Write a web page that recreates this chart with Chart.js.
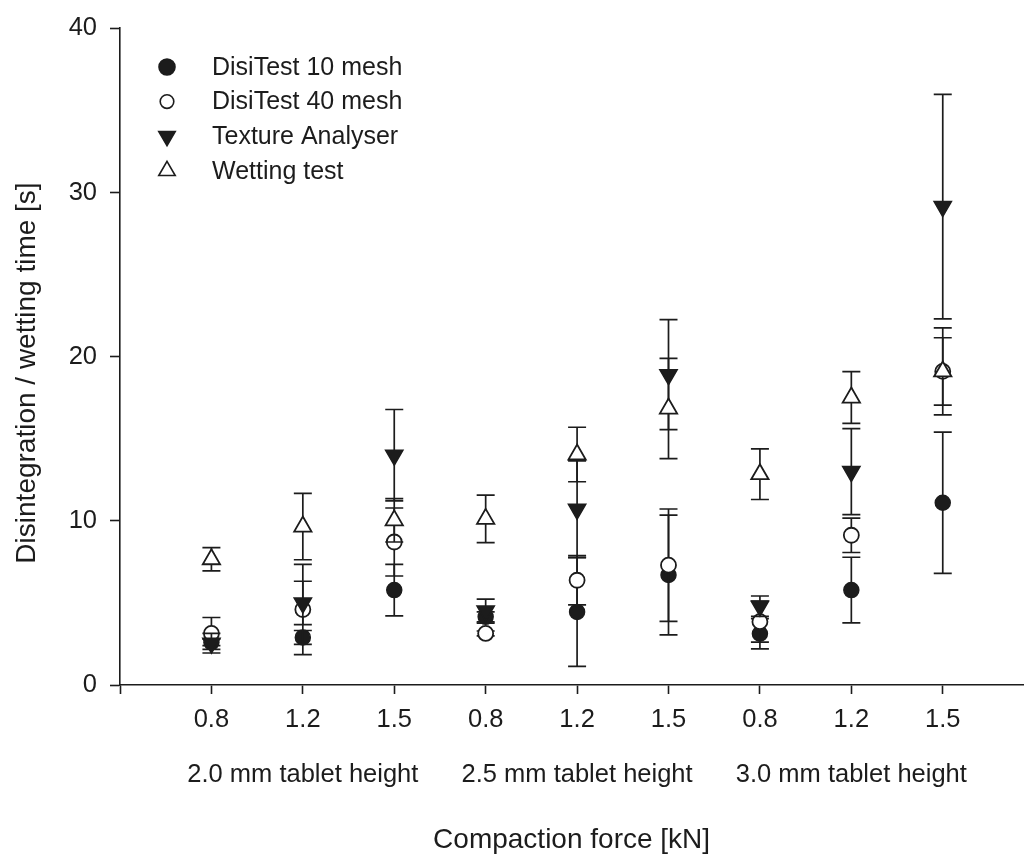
<!DOCTYPE html>
<html>
<head>
<meta charset="utf-8">
<script src="https://cdn.jsdelivr.net/npm/chart.js@4/dist/chart.umd.min.js"></script>
<style>
  html, body { margin: 0; padding: 0; background: #fff; }
  #wrap { width: 1035px; height: 858px; position: relative; }
</style>
</head>
<body>
<div id="wrap"><canvas id="chartDisintegration"></canvas></div>
<script>
// compaction force per position, three tablet heights
const forceLabels = ['0.8', '1.2', '1.5', '0.8', '1.2', '1.5', '0.8', '1.2', '1.5'];
const heightLabels = ['2.0 mm tablet height', '2.5 mm tablet height', '3.0 mm tablet height'];
const seriesNames = ['DisiTest 10 mesh', 'DisiTest 40 mesh', 'Texture Analyser', 'Wetting test'];

// mean times [s] and their SD
const disi10 = [2.6, 2.9, 5.78, 4.15, 4.45, 6.7, 3.12, 5.78, 11.1];
const disi10Err = [0.2, 0.42, 1.57, 0.3, 3.32, 3.65, 0.92, 2.0, 4.3];
const disi40 = [3.14, 4.6, 8.71, 3.14, 6.38, 7.3, 3.86, 9.12, 19.1];
const disi40Err = [0.97, 2.75, 2.07, 0.15, 1.5, 3.42, 1.25, 1.05, 2.65];
const texture = [2.55, 5.0, 14.0, 4.5, 10.7, 18.9, 4.8, 13.0, 29.14];
const textureErr = [0.6, 1.32, 2.78, 0.73, 2.95, 3.35, 0.62, 2.62, 6.84];
const wetting = [7.66, 9.65, 10.03, 10.12, 14.04, 16.84, 12.84, 17.51, 19.1];
const wettingErr = [0.71, 2.02, 1.32, 1.45, 1.66, 3.05, 1.54, 1.58, 2.05];

const yTicks = [0, 10, 20, 30, 40];

const INK = '#1c1c1c';
const FONT = "'Liberation Sans', Arial, sans-serif";

const toPoints = vals => vals.map((v, i) => ({ x: i, y: v }));

// error bars are drawn right before each dataset's markers
const errorBars = {
    id: 'errorBars',
    beforeDatasetDraw(chart, args) {
        const ds = chart.data.datasets[args.index];
        if (!ds.errors) return;
        const { ctx, scales: { x, y } } = chart;
        ctx.save();
        ctx.strokeStyle = INK;
        ctx.lineWidth = 1.7;
        ds.data.forEach((p, i) => {
            const e = ds.errors[i];
            const px = x.getPixelForValue(p.x);
            const top = y.getPixelForValue(p.y + e);
            const bot = y.getPixelForValue(p.y - e);
            ctx.beginPath();
            ctx.moveTo(px, top); ctx.lineTo(px, bot);
            ctx.moveTo(px - 9, top); ctx.lineTo(px + 9, top);
            ctx.moveTo(px - 9, bot); ctx.lineTo(px + 9, bot);
            ctx.stroke();
        });
        ctx.restore();
    }
};

// legend box inside the plot, group labels and axis titles
const annotations = {
    id: 'annotations',
    afterDraw(chart) {
        const { ctx, scales: { x }, chartArea } = chart;
        ctx.save();
        ctx.fillStyle = INK;

        ctx.font = '25px ' + FONT;
        ctx.textBaseline = 'middle';
        ctx.textAlign = 'left';
        chart.data.datasets.forEach((ds, i) => {
            const cy = 67 + i * 34.6;
            ctx.save();
            ctx.fillStyle = ds.backgroundColor;
            ctx.strokeStyle = ds.borderColor;
            ctx.lineWidth = 1.6;
            const filled = ds.backgroundColor !== '#ffffff';
            Chart.helpers.drawPoint(ctx, {
                pointStyle: ds.pointStyle,
                rotation: ds.rotation || 0,
                radius: ds.pointStyle === 'circle' ? (filled ? 8 : 6.8) : 9.5,
                borderWidth: 1.6
            }, 167, cy);
            ctx.restore();
            ctx.fillText(ds.label, 212, cy + 1);
        });

        ctx.textAlign = 'center';
        ctx.font = '25.5px ' + FONT;
        heightLabels.forEach((t, i) => {
            ctx.fillText(t, x.getPixelForValue(i * 3 + 1), 775);
        });

        ctx.font = '28px ' + FONT;
        ctx.fillText('Compaction force [kN]', (chartArea.left + chartArea.right) / 2, 840);

        ctx.translate(27, 373);
        ctx.rotate(-Math.PI / 2);
        ctx.fillText('Disintegration / wetting time [s]', 0, 0);
        ctx.restore();
    }
};

document.addEventListener('DOMContentLoaded', () => {
    const ctx = document.getElementById('chartDisintegration');
    new Chart(ctx, {
        type: 'scatter',
        data: {
            datasets: [{
                label: seriesNames[0],
                data: toPoints(disi10),
                errors: disi10Err,
                pointStyle: 'circle',
                pointRadius: 7.5,
                backgroundColor: INK,
                borderColor: INK,
                borderWidth: 1.5,
                order: 4
            }, {
                label: seriesNames[1],
                data: toPoints(disi40),
                errors: disi40Err,
                pointStyle: 'circle',
                pointRadius: 7.5,
                backgroundColor: '#ffffff',
                borderColor: INK,
                borderWidth: 1.8,
                order: 3
            }, {
                label: seriesNames[2],
                data: toPoints(texture),
                errors: textureErr,
                pointStyle: 'triangle',
                rotation: 180,
                pointRotation: 180,
                pointRadius: 10,
                backgroundColor: INK,
                borderColor: INK,
                borderWidth: 1.5,
                order: 2
            }, {
                label: seriesNames[3],
                data: toPoints(wetting),
                errors: wettingErr,
                pointStyle: 'triangle',
                pointRadius: 10,
                backgroundColor: '#ffffff',
                borderColor: INK,
                borderWidth: 1.8,
                order: 1
            }]
        },
        options: {
            responsive: true,
            maintainAspectRatio: false,
            animation: false,
            layout: { padding: { top: 27, right: 2, left: 0, bottom: 0 } },
            plugins: {
                legend: { display: false },
                tooltip: { enabled: false }
            },
            scales: {
                x: {
                    type: 'linear',
                    min: -1,
                    max: 8.88,
                    afterBuildTicks: scale => {
                        scale.ticks = [-1, 0, 1, 2, 3, 4, 5, 6, 7, 8].map(v => ({ value: v }));
                    },
                    afterFit: scale => { scale.height = 173; },
                    ticks: {
                        callback: v => (v >= 0 ? forceLabels[v] : ''),
                        color: INK,
                        font: { family: FONT, size: 25.5 },
                        padding: 11,
                        maxRotation: 0,
                        autoSkip: false
                    },
                    grid: {
                        drawOnChartArea: false,
                        drawTicks: true,
                        tickLength: 9,
                        tickWidth: 1.6,
                        tickColor: INK
                    },
                    border: { display: true, color: INK, width: 1.6 }
                },
                y: {
                    min: 0,
                    max: 40,
                    afterBuildTicks: scale => {
                        scale.ticks = yTicks.map(v => ({ value: v }));
                    },
                    afterFit: scale => { scale.width = 120; },
                    ticks: {
                        color: INK,
                        font: { family: FONT, size: 25.5 },
                        padding: 13
                    },
                    grid: {
                        drawOnChartArea: false,
                        drawTicks: true,
                        tickLength: 10,
                        tickWidth: 1.6,
                        tickColor: INK
                    },
                    border: { display: true, color: INK, width: 1.6 }
                }
            }
        },
        plugins: [errorBars, annotations]
    });
});
</script>
</body>
</html>
